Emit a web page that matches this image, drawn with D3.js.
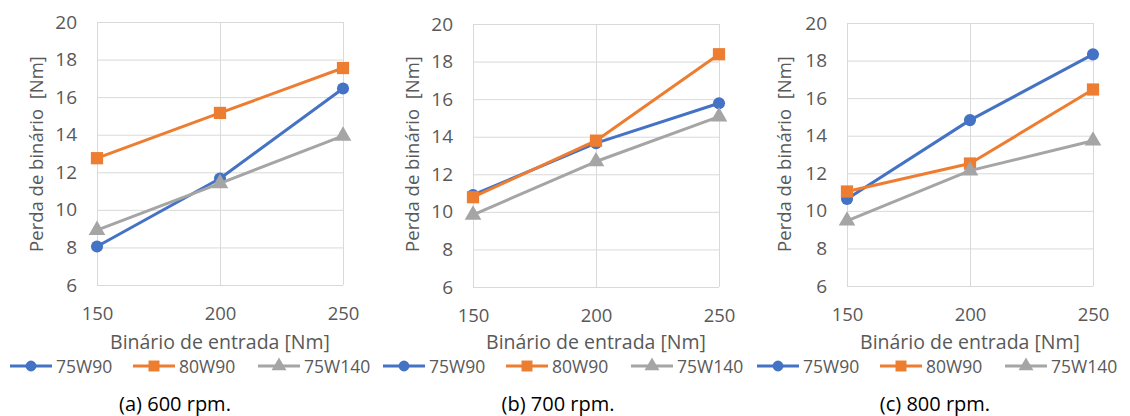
<!DOCTYPE html>
<html>
<head>
<meta charset="utf-8">
<script src="https://cdn.jsdelivr.net/npm/d3@7"></script>
<style>
  body { margin: 0; background: #fff; }
  text { font-family: "Open Sans", sans-serif; }
</style>
</head>
<body>
<svg width="1130" height="416"></svg>
<script>
// Data
const torqueIn = [150, 200, 250];
const seriesNames = ["75W90", "80W90", "75W140"];
const captions = ["(a) 600 rpm.", "(b) 700 rpm.", "(c) 800 rpm."];
const yTicks = [6, 8, 10, 12, 14, 16, 18, 20];

const loss600 = [
  [8.05, 11.67, 16.46],
  [12.75, 15.16, 17.55],
  [8.92, 11.41, 13.94]
];
const loss700 = [
  [10.9, 13.66, 15.78],
  [10.78, 13.79, 18.39],
  [9.84, 12.68, 15.07]
];
const loss800 = [
  [10.63, 14.83, 18.33],
  [11.03, 12.52, 16.46],
  [9.47, 12.14, 13.73]
];
const panels = [loss600, loss700, loss800];

const colors = ["#4472C4", "#ED7D31", "#A5A5A5"];
const shapes = [d3.symbolCircle, d3.symbolSquare, d3.symbolTriangle];
const shapeSize = [115, 150, 120];

const svg = d3.select("svg");

// layout per panel
const plotLeft = [97, 473, 847],
      plotTop = [22, 24, 23],
      plotW = 246,
      plotH = 263;
const legendLeft = [10, 383, 757];
const captionX = [175, 558, 935];

panels.forEach((data, p) => {
  const g = svg.append("g")
    .attr("transform", `translate(${plotLeft[p]},${plotTop[p]})`);

  const x = d3.scaleLinear().domain([150, 250]).range([0, plotW]);
  const y = d3.scaleLinear().domain([6, 20]).range([plotH, 0]);

  // Gridlines
  g.append("g")
    .call(d3.axisLeft(y).tickValues(yTicks).tickSize(-plotW).tickFormat(""))
    .call(s => s.select(".domain").remove())
    .call(s => s.selectAll("line").attr("stroke", "#D9D9D9"));
  g.append("g")
    .attr("transform", `translate(0,${plotH})`)
    .call(d3.axisBottom(x).tickValues(torqueIn).tickSize(-plotH).tickFormat(""))
    .call(s => s.select(".domain").remove())
    .call(s => s.selectAll("line").attr("stroke", "#D9D9D9"));

  // Y tick labels
  g.append("g")
    .attr("transform", "translate(-8,0)")
    .call(d3.axisLeft(y).tickValues(yTicks).tickSize(0).tickPadding(12))
    .call(s => s.select(".domain").remove())
    .call(s => s.selectAll("text")
      .attr("fill", "#595959")
      .style("font-size", "19px")
      .style("font-family", "'Open Sans', sans-serif"));

  // X tick labels
  g.append("g")
    .attr("transform", `translate(0,${plotH})`)
    .call(d3.axisBottom(x).tickValues(torqueIn).tickSize(0).tickPadding(22))
    .call(s => s.select(".domain").remove())
    .call(s => s.selectAll("text")
      .attr("fill", "#595959")
      .style("font-size", "18.5px")
      .style("font-family", "'Open Sans', sans-serif"));

  // Axis titles
  g.append("text")
    .attr("x", plotW / 2)
    .attr("y", 341 - plotTop[p])
    .attr("text-anchor", "middle")
    .attr("dominant-baseline", "central")
    .attr("fill", "#595959")
    .style("font-size", "19.5px")
    .text("Binário de entrada [Nm]");

  g.append("text")
    .attr("transform", `translate(${[35, 411, 783][p] - plotLeft[p]},${154 - plotTop[p]}) rotate(-90)`)
    .attr("text-anchor", "middle")
    .attr("dominant-baseline", "central")
    .attr("fill", "#595959")
    .style("font-size", "18.5px")
    .style("white-space", "pre")
    .text("Perda de binário  [Nm]");

  // Lines and markers
  const line = d3.line()
    .x((d, i) => x(torqueIn[i]))
    .y(d => y(d));

  data.forEach((vals, s) => {
    g.append("path")
      .datum(vals)
      .attr("fill", "none")
      .attr("stroke", colors[s])
      .attr("stroke-width", 3)
      .attr("stroke-linejoin", "round")
      .attr("d", line);

    g.selectAll(null)
      .data(vals)
      .enter()
      .append("path")
      .attr("transform", (d, i) => `translate(${x(torqueIn[i])},${y(d)})`)
      .attr("d", d3.symbol().type(shapes[s]).size(shapeSize[s]))
      .attr("fill", colors[s]);
  });

  // Legend
  const leg = svg.append("g")
    .attr("transform", `translate(${legendLeft[p]},366)`);
  seriesNames.forEach((name, s) => {
    const item = leg.append("g").attr("transform", `translate(${[0, 123, 248][s]},0)`);
    item.append("line")
      .attr("x1", 0).attr("x2", 42)
      .attr("stroke", colors[s])
      .attr("stroke-width", 3);
    item.append("path")
      .attr("transform", "translate(21,0)")
      .attr("d", d3.symbol().type(shapes[s]).size(shapeSize[s] * 0.8))
      .attr("fill", colors[s]);
    item.append("text")
      .attr("x", 46)
      .attr("dominant-baseline", "central")
      .attr("fill", "#595959")
      .style("font-size", "17.5px")
      .text(name);
  });

  // Caption
  svg.append("text")
    .attr("x", captionX[p])
    .attr("y", 403)
    .attr("text-anchor", "middle")
    .attr("dominant-baseline", "central")
    .attr("fill", "#000")
    .style("font-size", "20px")
    .text(captions[p]);
});
</script>
</body>
</html>
